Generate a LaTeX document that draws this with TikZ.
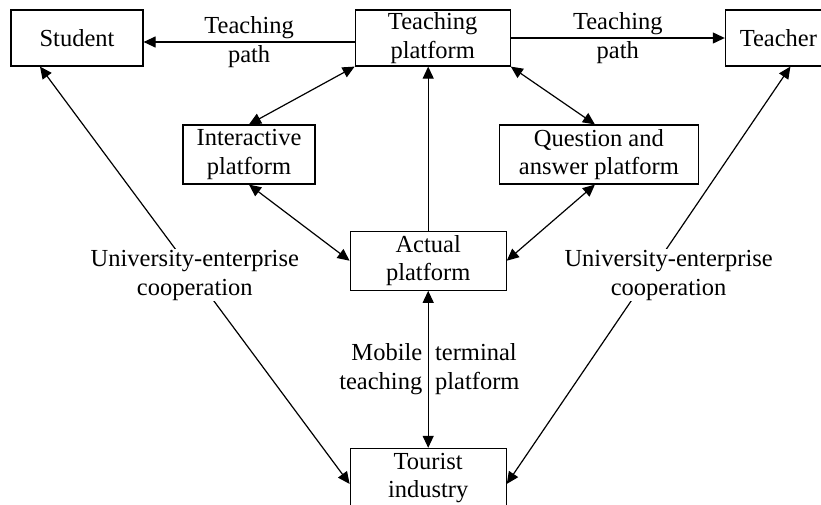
\documentclass[tikz,border=0pt]{standalone}
\usepackage{fontspec}
\setmainfont{Liberation Serif}
\usetikzlibrary{arrows.meta,positioning}

\begin{document}
\begin{tikzpicture}[x=1pt,y=-1pt,>={Triangle[length=12pt,width=11pt]},line width=1.2pt,
  box/.style={draw,align=center,inner sep=0pt,minimum height=59pt,font=\fontsize{24.5}{28.5}\selectfont},
  lbl/.style={align=center,font=\fontsize{24.5}{28.5}\selectfont},
  coop/.style={lbl,fill=white,inner sep=1pt}]
  \useasboundingbox (0,0) rectangle (821,504);
  \node[box,minimum width=132pt,minimum height=56pt] (stu) at (77,38) {Student};
  \node[box,minimum width=155pt,minimum height=56pt,right=211pt of stu] (tp) {Teaching\\platform};
  \node[box,minimum width=106pt,minimum height=56pt,right=214pt of tp] (tch) {Teacher};
  \node[box,minimum width=156pt,below=164pt of tp,xshift=-4.5pt] (act) {Actual\\platform};
  \node[box,minimum width=156pt,below=157pt of act] (tour) {Tourist\\industry};
  \node[box,minimum width=132pt,above left=46pt and 34pt of act] (int) {Interactive\\platform};
  \node[box,minimum width=199pt,above right=46pt and -8pt of act] (qa) {Question and\\answer platform};
  \draw[->] ([yshift=-4pt]tp.west) -- node[lbl] {Teaching\\path} ([yshift=-4pt]stu.east);
  \draw[->] (tp.east) -- node[lbl] {Teaching\\path} (tch.west);
  \draw[<->] (int.north) -- (tp.south west); \draw[<->] ([xshift=-4pt]qa.north) -- (tp.south east);
  \draw[->] (act.north) -- (act.north |- tp.south);
  \draw[<->] (int.south) -- (act.west); \draw[<->] ([xshift=-4pt]qa.south) -- (act.east);
  \draw[<->] (act) -- node[lbl,left=2pt,align=right] {Mobile\\teaching} node[lbl,right=3pt,align=left] {terminal\\platform} (tour);
  \draw[<->] ([xshift=-37pt]stu.south) -- node[coop] {University-enterprise\\cooperation} ([yshift=-6pt]tour.west);
  \draw[<->] ([xshift=12pt]tch.south) -- node[coop,xshift=20pt] {University-enterprise\\cooperation} ([yshift=-6pt]tour.east);
\end{tikzpicture}
\end{document}
